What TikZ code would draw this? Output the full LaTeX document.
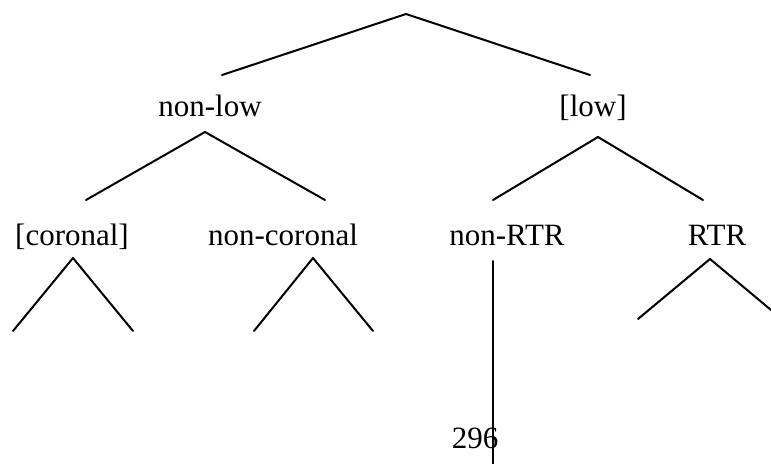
\documentclass[tikz,border=0pt]{standalone}
\usepackage{fontspec}
\setmainfont{Liberation Serif}
\usepackage{tkz-euclide}
\tikzset{lbl/.style={anchor=base,inner sep=0pt,font=\fontsize{15.5}{18}\selectfont}}

\begin{document}
\begin{tikzpicture}[x=.5pt,y=-.5pt]
\useasboundingbox (0,0) rectangle (771,464);
\tkzSetUpLine[line width=1pt,color=black]

\tkzDefPoints{406/14/R,222/75/A,590/75/B,
  205/132/N,86/200/NA,325/200/NB,
  598/137/L,493/200/LA,703/200/LB,
  73/258/C,13/331/CA,133/331/CB,
  313/258/K,254/331/KA,373/331/KB,
  493/261/T,493/464/TT,
  710/259/S,638/319/SA,771/310/SB}

\node[lbl] (nonlow) at (210,117) {non-low};
\node[lbl] (low) at (593,117) {[low]};
\node[lbl] (cor) at (72,246) {[coronal]};
\node[lbl] (noncor) at (283,246) {non-coronal};
\node[lbl] (nonrtr) at (507,246) {non-RTR};
\node[lbl] (rtr) at (717,246) {RTR};
\node[lbl] (page) at (475,449) {296};

\tkzDrawSegments(R,A R,B N,NA N,NB L,LA L,LB)
\tkzDrawSegments(C,CA C,CB K,KA K,KB S,SA S,SB)
\tkzDrawSegments(T,TT)

\end{tikzpicture}
\end{document}
